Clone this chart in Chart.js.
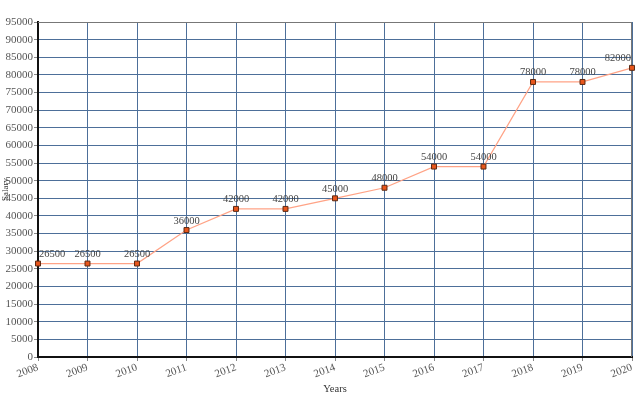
<!DOCTYPE html>
<html><head><meta charset="utf-8">
<script src="https://cdn.jsdelivr.net/npm/chart.js@4.4.0/dist/chart.umd.min.js"></script>
<style>html,body{margin:0;padding:0;background:#fff;}#wrap{width:640px;height:400px;}</style>
</head><body><div id="wrap"><canvas id="c" width="640" height="400"></canvas></div>
<script>
const years = ['2008','2009','2010','2011','2012','2013','2014','2015','2016','2017','2018','2019','2020'];
const salary = [26500,26500,26500,36000,42000,42000,45000,48000,54000,54000,78000,78000,82000];
const yMax = 95000;
const yStep = 5000;

const labelPlugin = {
  id: 'pointLabels',
  afterDatasetsDraw(chart) {
    const ctx = chart.ctx, area = chart.chartArea;
    const meta = chart.getDatasetMeta(0);
    ctx.save();
    ctx.font = '10.5px "Liberation Serif", serif';
    ctx.fillStyle = '#444';
    ctx.textBaseline = 'bottom';
    meta.data.forEach((pt, i) => {
      const txt = String(salary[i]);
      const w = ctx.measureText(txt).width;
      let x = pt.x - w / 2;
      if (x < area.left + 1) x = area.left + 1;
      if (x + w > area.right - 1) x = area.right - 1 - w;
      ctx.textAlign = 'left';
      ctx.fillText(txt, x, pt.y - 4);
    });
    ctx.restore();
  }
};
const framePlugin = {
  id: 'frame',
  beforeDatasetsDraw(chart) {
    const ctx = chart.ctx, a = chart.chartArea;
    ctx.save();
    ctx.strokeStyle = '#777';
    ctx.lineWidth = 1;
    ctx.beginPath();
    ctx.moveTo(a.left, a.top + 0.5);
    ctx.lineTo(a.right - 0.5, a.top + 0.5);
    ctx.lineTo(a.right - 0.5, a.bottom);
    ctx.stroke();
    ctx.restore();
  }
};

new Chart(document.getElementById('c'), {
  type: 'line',
  data: {
    labels: years,
    datasets: [{
      data: salary,
      borderColor: '#ffa386',
      borderWidth: 1.2,
      backgroundColor: '#e8561c',
      pointStyle: 'rect',
      pointRadius: 3.5,
      pointBorderColor: '#5a2a14',
      pointBorderWidth: 1,
      tension: 0,
      clip: false
    }]
  },
  options: {
    responsive: false,
    animation: false,
    devicePixelRatio: 1,
    layout: { padding: { top: 22, right: 8, left: 0, bottom: 0 } },
    plugins: { legend: { display: false }, tooltip: { enabled: false } },
    scales: {
      x: {
        offset: false,
        grid: { color: '#4d6f99', lineWidth: 1, tickLength: 4, tickColor: '#888' },
        border: { color: '#111', width: 2 },
        ticks: { font: { family: '"Liberation Serif", serif', size: 11 }, color: '#555', minRotation: 20, maxRotation: 20, padding: 0 },
        title: { display: true, text: 'Years', font: { family: '"Liberation Serif", serif', size: 10.5 }, color: '#333', padding: { top: 2, bottom: 4 } },
        afterFit(s) { s.height = 43; }
      },
      y: {
        min: 0, max: yMax,
        grid: { color: '#4d6f99', lineWidth: 1, tickLength: 4, tickColor: '#888' },
        border: { color: '#111', width: 2 },
        ticks: { stepSize: yStep, font: { family: '"Liberation Serif", serif', size: 11 }, color: '#555', padding: 1, callback: v => String(v) },
        title: { display: true, text: 'Salary', font: { family: '"Liberation Serif", serif', size: 9 }, color: '#333', padding: 0 },
        afterFit(s) { s.width = 38; }
      }
    }
  },
  plugins: [framePlugin, labelPlugin]
});
</script></body></html>
